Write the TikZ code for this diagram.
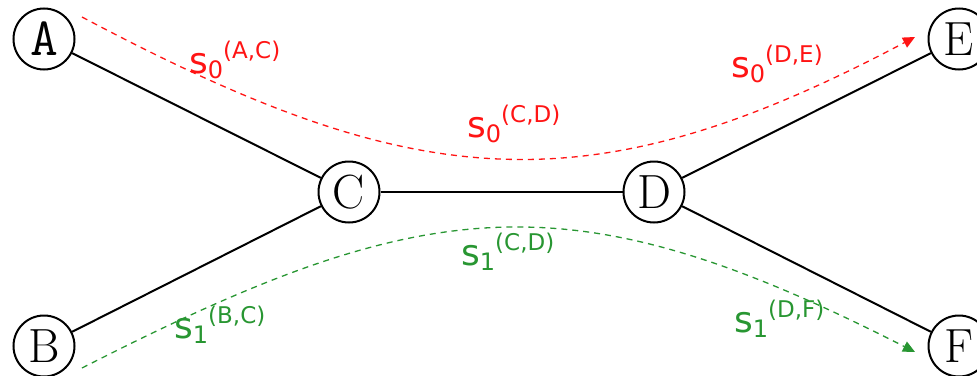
\documentclass[tikz,border=0pt]{standalone}
\usepackage{fontspec}
\newfontfamily\labfont{DejaVu Sans}
\usetikzlibrary{arrows.meta}
\definecolor{pred}{RGB}{255,20,20}
\definecolor{pgreen}{RGB}{40,150,50}
\newcommand\slab[3]{{\labfont\fontsize{36}{36}\selectfont s}\raisebox{-5pt}{\labfont\fontsize{24}{24}\selectfont #1}\raisebox{15pt}{\labfont\fontsize{23}{23}\selectfont (#2,#3)}}
\tikzset{
  vert/.style={draw, circle, line width=2pt, minimum size=61pt, inner sep=0pt, font=\fontsize{48}{48}\selectfont},
  edge/.style={line width=2pt},
  flowred/.style={pred, line width=1.3pt, dash pattern=on 6pt off 5pt, -{Triangle[length=12pt,width=11pt]}},
  flowgreen/.style={pgreen, line width=1.3pt, dash pattern=on 6pt off 5pt, -{Triangle[length=12pt,width=11pt]}},
  lab/.style={anchor=base west, inner sep=0pt}
}
\begin{document}
\begin{tikzpicture}[x=1pt,y=-1pt]
\useasboundingbox (0,0) rectangle (977,375);
\node[vert, font=\fontsize{54}{54}\selectfont\ttfamily] (A) at (44,39) {A};
\node[vert] (B) at (44,346) {B};
\node[vert] (C) at (349,192) {C};
\node[vert] (D) at (654,192) {D};
\node[vert] (E) at (959,39) {E};
\node[vert] (F) at (959,346) {F};
\draw[edge] (A) -- (C);
\draw[edge] (B) -- (C);
\draw[edge] (C) -- (D);
\draw[edge] (D) -- (E);
\draw[edge] (D) -- (F);
\coordinate (r0) at (82,17);
\coordinate (r1) at (915,37);
\coordinate (g0) at (82,368);
\coordinate (g1) at (915,352);
\draw[flowred] (r0) .. controls (412,192) and (585,212) .. (r1);
\draw[flowgreen] (g0) .. controls (427,192) and (570,176) .. (g1);
\node[lab, text=pred] (l1) at (189,73) {\slab{0}{A}{C}};
\node[lab, text=pred] (l2) at (467,137) {\slab{0}{C}{D}};
\node[lab, text=pred] (l3) at (731,77) {\slab{0}{D}{E}};
\node[lab, text=pgreen] (l4) at (461,265) {\slab{1}{C}{D}};
\node[lab, text=pgreen] (l5) at (174,338) {\slab{1}{B}{C}};
\node[lab, text=pgreen] (l6) at (734,332) {\slab{1}{D}{F}};
\end{tikzpicture}
\end{document}
